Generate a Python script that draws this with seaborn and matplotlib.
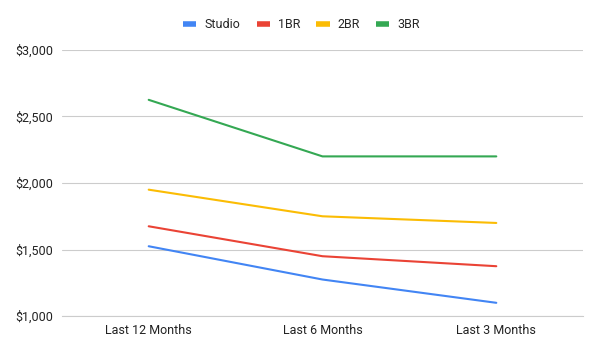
import pandas as pd
import seaborn as sns
import matplotlib.pyplot as plt
from matplotlib.ticker import FuncFormatter

# Données du graphique
periods = ['Last 12 Months', 'Last 6 Months', 'Last 3 Months']
studio = [1525, 1275, 1100]
br1 = [1675, 1450, 1375]
br2 = [1950, 1750, 1700]
br3 = [2625, 2200, 2200]
series_names = ['Studio', '1BR', '2BR', '3BR']
colors = ['#4285F4', '#EA4335', '#FBBC04', '#34A853']

df = pd.DataFrame({'period': periods * 4,
                   'unit': [n for n in series_names for _ in periods],
                   'rent': studio + br1 + br2 + br3})

sns.set_style('white')
plt.rcParams['font.family'] = ['Roboto', 'DejaVu Sans']

fig = plt.figure(figsize=(6, 3.54), dpi=100)
ax = fig.add_axes([0.103, 0.107, 0.869, 0.752])

sns.lineplot(data=df, x='period', y='rent', hue='unit', palette=colors,
             linewidth=1.5, ax=ax, sort=False)

ax.set_xlim(-0.5, 2.5)
ax.set_ylim(1000, 3000)
ax.set_yticks([1000, 1500, 2000, 2500, 3000])
ax.yaxis.set_major_formatter(FuncFormatter(lambda v, p: f'${v:,.0f}'))
ax.grid(axis='y', color='#cccccc', linewidth=0.8)
ax.set_axisbelow(True)
for s in ['top', 'right', 'left']:
    ax.spines[s].set_visible(False)
ax.spines['bottom'].set_color('#cccccc')
ax.spines['bottom'].set_linewidth(0.8)
ax.tick_params(axis='both', length=0, labelsize=9, colors='#222222', pad=6)
ax.set_xlabel('')
ax.set_ylabel('')

handles, labels = ax.get_legend_handles_labels()
for h in handles:
    h.set_linewidth(4)
    h.set_solid_capstyle('butt')
ax.legend(handles, labels, loc='center', bbox_to_anchor=(0.46, 1.095), ncol=4,
          frameon=False, fontsize=9, handlelength=1.05, columnspacing=1.3,
          handletextpad=0.65)

plt.savefig('out.png', dpi=100)
